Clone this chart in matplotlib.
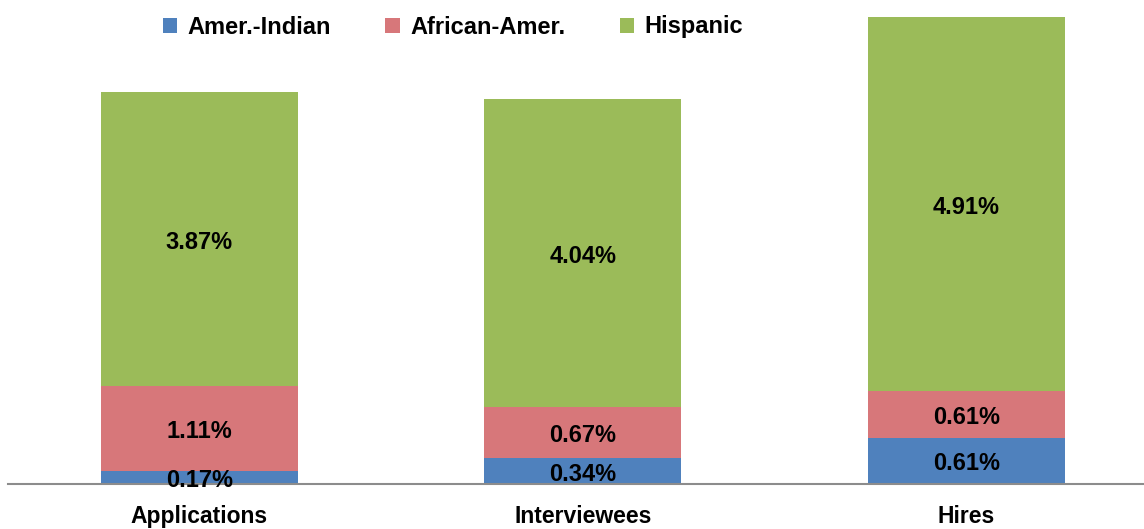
import numpy as np
import matplotlib.pyplot as plt
from matplotlib.patches import Patch

categories = ['Applications', 'Interviewees', 'Hires']
series_names = ['Amer.-Indian', 'African-Amer.', 'Hispanic']
amer_indian = [0.17, 0.34, 0.61]
african_amer = [1.11, 0.67, 0.61]
hispanic = [3.87, 4.04, 4.91]
colors = ['#4F81BD', '#D7777A', '#9BBB59']

plt.rcParams['font.family'] = ['Liberation Sans', 'DejaVu Sans']
plt.rcParams['font.weight'] = 'bold'

fig = plt.figure(figsize=(11.44, 5.29), dpi=100)
ax = fig.add_axes([8 / 1144, 45 / 529, 1136 / 1144, 467 / 529])

x = np.arange(len(categories))
width = 0.514
bottom = np.zeros(len(categories))
for vals, col in zip([amer_indian, african_amer, hispanic], colors):
    vals = np.array(vals)
    ax.bar(x, vals, width, bottom=bottom, color=col, edgecolor='none', zorder=2)
    for xi, b, v in zip(x, bottom, vals):
        ax.annotate(f'{v:.2f}%', (xi, b + v / 2), xytext=(0, -3),
                    textcoords='offset pixels', ha='center', va='center',
                    fontsize=17, fontweight='bold', color='black', zorder=4,
                    annotation_clip=False)
    bottom += vals

ax.set_xlim(-0.499, 2.463)
ax.set_ylim(0, sum([amer_indian[2], african_amer[2], hispanic[2]]))
ax.set_yticks([])
ax.set_xticks(x)
ax.set_xticklabels(categories, fontsize=16.5, fontweight='bold')
ax.tick_params(axis='x', length=0, pad=15)
for s in ['top', 'right', 'left']:
    ax.spines[s].set_visible(False)
ax.spines['bottom'].set_color('#8C8C8C')
ax.spines['bottom'].set_linewidth(1.5)
ax.spines['bottom'].set_zorder(3)

handles = [Patch(facecolor=c, edgecolor='none') for c in colors]
fig.legend(handles, series_names, loc='center', ncol=3,
           bbox_to_anchor=(453 / 1144, 1 - 27 / 529), frameon=False,
           prop={'size': 17, 'weight': 'bold'}, handlelength=0.6, handleheight=0.6,
           handletextpad=0.45, columnspacing=2.3)

fig.savefig('out.png', dpi=100)
